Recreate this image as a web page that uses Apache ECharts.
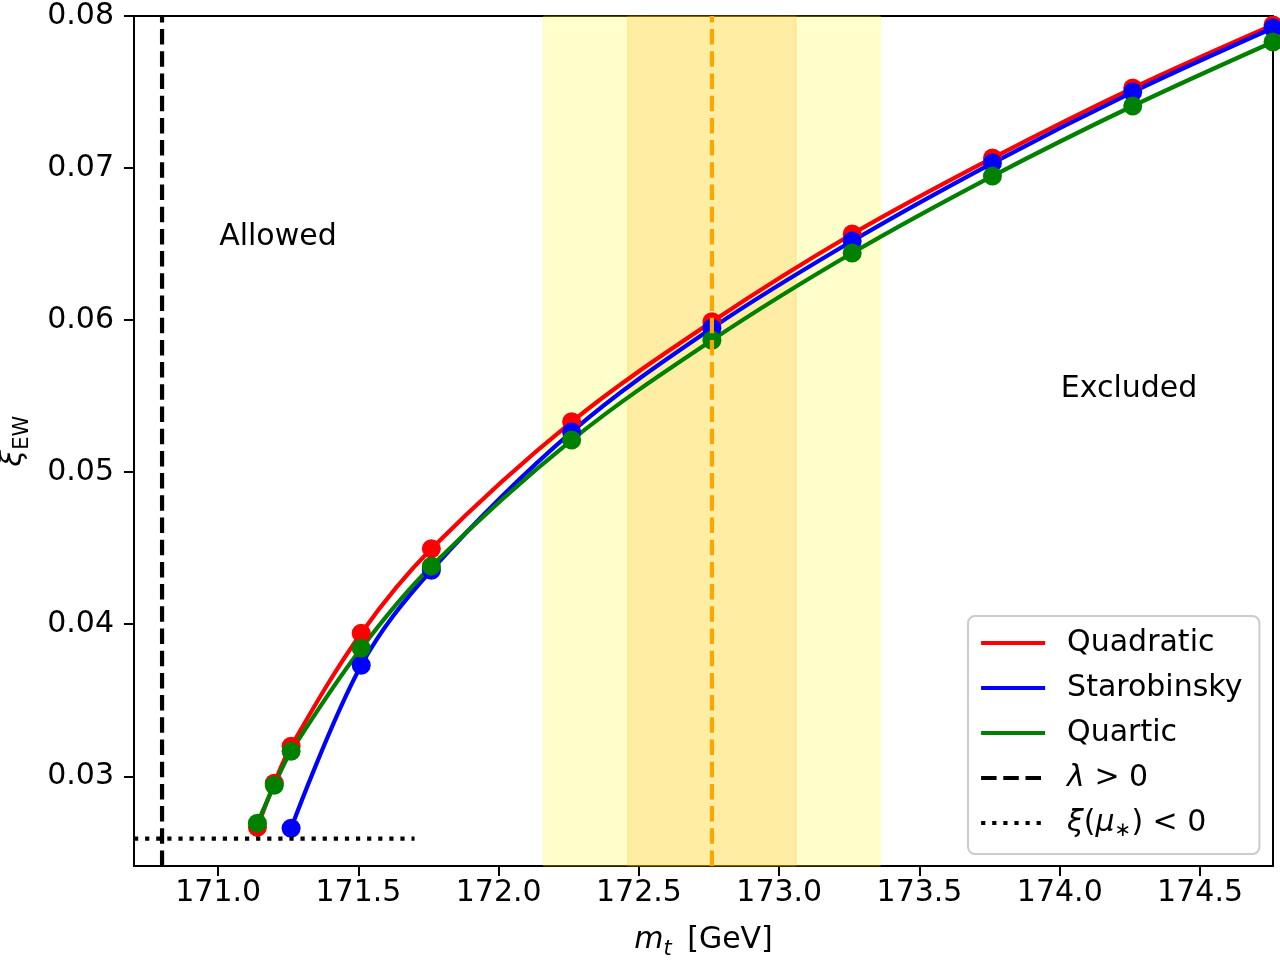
<!DOCTYPE html>
<html>
<head>
<meta charset="utf-8">
<script src="https://cdn.jsdelivr.net/npm/echarts@6/dist/echarts.min.js"></script>
<style>
html,body{margin:0;padding:0;background:#fff;}
#chart{width:1280px;height:960px;}
</style>
</head>
<body>
<div id="chart"></div>
<script>
// ---- data ----
const mtQuadratic = [171.14, 171.20, 171.26, 171.51, 171.76, 172.26, 172.76, 173.26, 173.76, 174.26, 174.76];
const xiQuadratic = [0.02664, 0.02954, 0.03197, 0.03941, 0.04496, 0.05331, 0.05989, 0.06566, 0.07066, 0.07526, 0.07941];
const mtStarobinsky = [171.26, 171.51, 171.76, 172.26, 172.76, 173.26, 173.76, 174.26, 174.76];
const xiStarobinsky = [0.02658, 0.03730, 0.04355, 0.05265, 0.05947, 0.06520, 0.07033, 0.07500, 0.07921];
const mtQuartic = [171.14, 171.20, 171.26, 171.51, 171.76, 172.26, 172.76, 173.26, 173.76, 174.26, 174.76];
const xiQuartic = [0.02691, 0.02941, 0.03164, 0.03842, 0.04382, 0.05211, 0.05868, 0.06441, 0.06947, 0.07408, 0.07829];
const lambdaBoundX = 170.8;          // lambda > 0 boundary (vertical dashed)
const xiNegativeY = 0.0259;          // xi(mu*) < 0 level (dotted)
const xiNegativeXRange = [170.7, 171.7];
const mtCentral = 172.76;            // central top mass
const bandInner = [172.46, 173.06];  // 1 sigma
const bandOuter = [172.16, 173.36];  // 2 sigma
const xTicks = [171.0, 171.5, 172.0, 172.5, 173.0, 173.5, 174.0, 174.5];
const yTicks = [0.03, 0.04, 0.05, 0.06, 0.07, 0.08];
const xRange = [170.7, 174.76];
const yRange = [0.0241, 0.08];
const annotations = [[171.0, 0.065, 'Allowed'], [174.0, 0.055, 'Excluded']];

const zip = (xs, ys) => xs.map((x, i) => [x, ys[i]]);
const FONT = 'DejaVu Sans';
const FS = 30;
const LW = 4.2;
const DASH = [15.5, 6.7];
const DOT = [4.2, 6.9];

const models = [
  {name: 'Quadratic', color: '#ff0000', data: zip(mtQuadratic, xiQuadratic)},
  {name: 'Starobinsky', color: '#0000ff', data: zip(mtStarobinsky, xiStarobinsky)},
  {name: 'Quartic', color: '#008000', data: zip(mtQuartic, xiQuartic)}
];

const series = [];
// bands
series.push({
  type: 'line', name: 'bands', data: [], silent: true, z: 1,
  markArea: {
    silent: true,
    data: [
      [{xAxis: bandOuter[0], itemStyle: {color: 'rgba(255,255,0,0.2)', borderColor: 'rgba(255,255,0,0.25)', borderWidth: 1}}, {xAxis: bandOuter[1]}],
      [{xAxis: bandInner[0], itemStyle: {color: 'rgba(255,165,0,0.2)', borderColor: 'rgba(255,165,0,0.25)', borderWidth: 1}}, {xAxis: bandInner[1]}]
    ]
  }
});
models.forEach(m => {
  series.push({
    type: 'line', name: m.name, data: m.data, smooth: 0.35,
    symbol: 'none', lineStyle: {color: m.color, width: LW}, itemStyle: {color: m.color},
    z: 3, animation: false
  });
  series.push({
    type: 'scatter', name: m.name + ' points', data: m.data, symbol: 'circle', symbolSize: 19,
    itemStyle: {color: m.color, opacity: 1}, z: 3, animation: false
  });
});
series.push({
  type: 'line', name: 'λ > 0', data: [[lambdaBoundX, yRange[0]], [lambdaBoundX, yRange[1]]],
  symbol: 'none', lineStyle: {color: '#000', width: LW, type: DASH, cap: 'butt'}, itemStyle: {color: '#000'}, z: 4, animation: false
});
series.push({
  type: 'line', name: 'ξ(μ∗) < 0', data: [[xiNegativeXRange[0], xiNegativeY], [xiNegativeXRange[1], xiNegativeY]],
  symbol: 'none', lineStyle: {color: '#000', width: LW, type: DOT, cap: 'butt'}, itemStyle: {color: '#000'}, z: 4, animation: false
});
series.push({
  type: 'line', name: 'central', data: [[mtCentral, yRange[0]], [mtCentral, yRange[1]]],
  symbol: 'none', lineStyle: {color: '#ffa500', width: LW, type: DASH, cap: 'butt'}, z: 5, animation: false
});
series.push({
  type: 'scatter', name: 'annotations', data: annotations, symbolSize: 0, silent: true, z: 6,
  itemStyle: {opacity: 1},
  label: {
    show: true, position: [0, 0], align: 'left', verticalAlign: 'middle', offset: [1, -7],
    formatter: p => p.data[2], color: '#000', opacity: 1, fontFamily: FONT, fontSize: FS
  }
});

const chart = echarts.init(document.getElementById('chart'), null, {renderer: 'canvas'});
chart.setOption({
  backgroundColor: '#fff',
  animation: false,
  grid: {left: 134, top: 16, right: 7, bottom: 94, show: true, borderColor: '#000', borderWidth: 2,
    backgroundColor: 'transparent', containLabel: false, outerBoundsMode: 'none'},
  xAxis: {
    type: 'value', min: xRange[0], max: xRange[1],
    name: '{mi|m}{sub|t} [GeV]', nameLocation: 'middle', nameGap: 54,
    nameTextStyle: {fontFamily: FONT, fontSize: FS, color: '#000', lineHeight: 40,
      rich: {mi: {fontFamily: FONT, fontStyle: 'italic', fontSize: FS, lineHeight: 40},
             sub: {fontFamily: FONT, fontStyle: 'italic', fontSize: 21, lineHeight: 40, verticalAlign: 'bottom', padding: [0, 6, 0, 0]}}},
    axisLine: {show: true, onZero: false, lineStyle: {color: '#000', width: 2}},
    axisTick: {show: true, inside: false, length: 10, lineStyle: {color: '#000', width: 2}, customValues: xTicks},
    axisLabel: {show: true, margin: 12, color: '#000', fontFamily: FONT, fontSize: FS, customValues: xTicks,
      formatter: v => v.toFixed(1)},
    splitLine: {show: false}
  },
  yAxis: {
    type: 'value', min: yRange[0], max: yRange[1],
    name: '{xi|ξ}{sub|EW}', nameLocation: 'middle', nameGap: 101, nameRotate: 90,
    nameTextStyle: {fontFamily: FONT, fontSize: FS, color: '#000', lineHeight: 40,
      rich: {xi: {fontFamily: FONT, fontStyle: 'italic', fontSize: FS, lineHeight: 40},
             sub: {fontFamily: FONT, fontSize: 21, lineHeight: 40, verticalAlign: 'bottom'}}},
    axisLine: {show: true, onZero: false, lineStyle: {color: '#000', width: 2}},
    axisTick: {show: true, inside: false, length: 10, lineStyle: {color: '#000', width: 2}, customValues: yTicks},
    axisLabel: {show: true, margin: 20, color: '#000', fontFamily: FONT, fontSize: FS, customValues: yTicks,
      formatter: v => v.toFixed(2)},
    splitLine: {show: false}
  },
  legend: {
    show: true, orient: 'vertical', left: 968, top: 616,
    data: ['Quadratic', 'Starobinsky', 'Quartic', 'λ > 0', 'ξ(μ∗) < 0'],
    itemWidth: 64, itemHeight: 2, itemGap: 9, selectedMode: false,
    padding: [9, 17, 13, 11],
    backgroundColor: '#fff', borderColor: '#cccccc', borderWidth: 2, borderRadius: 7,
    itemStyle: {opacity: 0},
    lineStyle: {width: LW},
    formatter: n => {
      if (n === 'λ > 0') return '{i|λ} > 0';
      if (n === 'ξ(μ∗) < 0') return '{i|ξ}({i|μ}{s|∗}) < 0';
      return n;
    },
    textStyle: {fontFamily: FONT, fontSize: FS, color: '#000', lineHeight: 36, padding: [0, 0, 0, 17],
      rich: {i: {fontFamily: FONT, fontStyle: 'italic', fontSize: FS, lineHeight: 36},
             s: {fontFamily: FONT, fontSize: 20, lineHeight: 36, verticalAlign: 'bottom'}}}
  },
  series: series
});
</script>
</body>
</html>
